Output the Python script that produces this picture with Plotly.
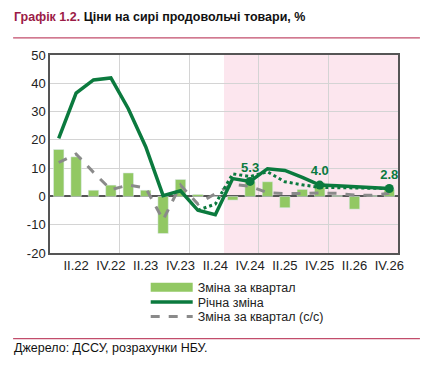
import plotly.graph_objects as go

categories = ["I.22", "II.22", "III.22", "IV.22", "I.23", "II.23", "III.23", "IV.23",
              "I.24", "II.24", "III.24", "IV.24", "I.25", "II.25", "III.25", "IV.25",
              "I.26", "II.26", "III.26", "IV.26"]
qoq_change = [16.6, 14.0, 2.2, 4.0, 8.3, 2.2, -13.1, 6.0,
              0.7, 0.1, -1.3, 5.1, 5.2, -4.0, 2.5, 4.9,
              0.3, -4.5, 0.3, 2.5]
yoy_change = [20.5, 36.5, 41.2, 41.9, 31.0, 17.6, 0.3, 2.0,
              -4.9, -6.5, 6.3, 5.3, 9.8, 9.2, 6.7, 4.0,
              3.8, 3.5, 3.2, 2.8]
prev_forecast = [None, None, None, None, None, None, None, None,
                 -4.9, -2.7, 8.0, 7.0, 8.7, 5.2, 4.1, 3.2,
                 3.1, 3.0, 2.9, 2.8]
qoq_sa = [12.0, 15.0, 8.5, 2.4, 4.0, 3.0, -8.3, 4.0,
          -2.7, 1.0, 4.3, 3.6, 1.3, 1.0, 1.0, 1.2,
          1.1, 0.5, 0.4, 1.1]
labelled = ["IV.24", "IV.25", "IV.26"]
forecast_start = "III.24"
tick_labels = ["II.22", "IV.22", "II.23", "IV.23", "II.24", "IV.24", "II.25", "IV.25", "II.26", "IV.26"]
y_ticks = [-20, -10, 0, 10, 20, 30, 40, 50]
legend_names = ["Зміна за квартал", "Річна зміна", "Зміна за квартал (с/с)"]

x = list(range(len(categories)))
tickvals = [categories.index(t) for t in tick_labels]

BAR = "#92c863"
DARK = "#0b7a3e"
GREY = "#8a8a8a"
FONT = "Liberation Sans, Arial, sans-serif"

fig = go.Figure()
fig.add_trace(go.Bar(x=x, y=qoq_change, marker_color=BAR, width=0.6,
                     showlegend=False, name=legend_names[0]))
fig.add_trace(go.Scatter(x=x, y=qoq_sa, mode="lines", showlegend=False,
                         line=dict(color=GREY, width=3, dash="dash")))
fig.add_trace(go.Scatter(x=x, y=prev_forecast, mode="lines", showlegend=False,
                         line=dict(color=DARK, width=3, dash="dot")))
fig.add_trace(go.Scatter(x=x, y=yoy_change, mode="lines", showlegend=False,
                         line=dict(color=DARK, width=3.5)))
lx = [categories.index(c) for c in labelled]
ly = [yoy_change[i] for i in lx]
fig.add_trace(go.Scatter(x=lx, y=ly, mode="markers+text", showlegend=False,
                         marker=dict(color=DARK, size=9),
                         text=[f"{v:.1f}" for v in ly], textposition="top center",
                         textfont=dict(color=DARK, size=13, family=FONT, weight="bold")))

# legend entries, each in its own legend box for tight row spacing
fig.add_trace(go.Scatter(x=[None], y=[None], mode="lines", name=legend_names[0],
                         line=dict(color=BAR, width=9), legend="legend"))
fig.add_trace(go.Scatter(x=[None], y=[None], mode="lines", name=legend_names[1],
                         line=dict(color=DARK, width=3.5), legend="legend2"))
fig.add_trace(go.Scatter(x=[None], y=[None], mode="lines", name=legend_names[2],
                         line=dict(color=GREY, width=3, dash="dash"), legend="legend3"))

fs = categories.index(forecast_start) - 0.5
fig.add_shape(type="rect", xref="x", yref="paper", x0=fs, x1=len(categories) - 0.5,
              y0=0, y1=1, fillcolor="#fce6ee", line_width=0, layer="below")

leg_common = dict(x=0.275, xanchor="left", yanchor="middle",
                  font=dict(size=12.5, color="#222"), itemwidth=42,
                  bgcolor="rgba(0,0,0,0)")

fig.update_layout(
    width=426, height=366,
    margin=dict(l=50, r=28, t=55, b=113),
    paper_bgcolor="white", plot_bgcolor="white",
    font=dict(family=FONT, size=13, color="#222"),
    legend=dict(y=-0.175, **leg_common),
    legend2=dict(y=-0.249, **leg_common),
    legend3=dict(y=-0.322, **leg_common),
    xaxis=dict(range=[-0.5, len(categories) - 0.5], tickmode="array",
               tickvals=tickvals, ticktext=tick_labels, showgrid=False,
               showline=True, linecolor="#555", linewidth=1.5, mirror=True,
               ticks="", zeroline=False,
               minor=dict(tick0=3.5, dtick=4, showgrid=True, gridcolor="#d4d4d4", gridwidth=1)),
    yaxis=dict(range=[-20, 50], tickmode="array", tickvals=y_ticks,
               ticktext=[str(v) for v in y_ticks], showgrid=True, gridcolor="#d4d4d4",
               showline=True, linecolor="#555", linewidth=1.5, mirror=True,
               zeroline=True, zerolinecolor="#555", zerolinewidth=1.5, ticks=""),
)

fig.add_annotation(xref="paper", yref="paper", x=-0.11, y=1.192, xanchor="left", yanchor="middle",
                   showarrow=False, align="left",
                   text="<b><span style='color:#9b1b47'>Графік 1.2.</span> Ціни на сирі продовольчі товари, %</b>",
                   font=dict(size=12.5, color="#111"))
fig.add_shape(type="line", xref="paper", yref="paper", x0=-0.106, x1=1.063, y0=1.086, y1=1.086,
              line=dict(color="#c24d6b", width=1.2))
fig.add_shape(type="line", xref="paper", yref="paper", x0=-0.106, x1=1.063, y0=-0.432, y1=-0.432,
              line=dict(color="#c24d6b", width=1.2))
fig.add_annotation(xref="paper", yref="paper", x=-0.11, y=-0.48, xanchor="left", yanchor="middle",
                   showarrow=False, text="Джерело: ДССУ, розрахунки НБУ.",
                   font=dict(size=12.5, color="#111"))

fig.write_html("out.html", config={"displayModeBar": False},
               post_script="document.body.style.margin='0px';")
